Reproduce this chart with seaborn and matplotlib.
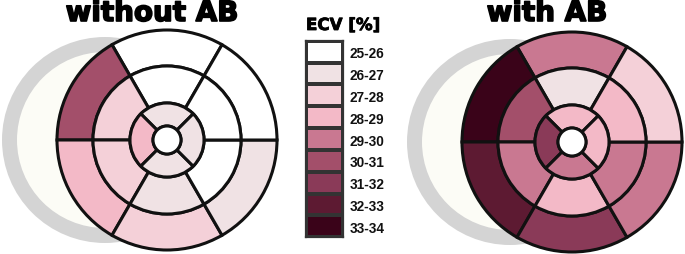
import numpy as np
import seaborn as sns
import matplotlib.pyplot as plt
import matplotlib.patheffects as pe
from matplotlib.colors import ListedColormap, Normalize
from matplotlib.patches import Wedge, Circle

# ECV bins and legend colours
ecv_labels = ['25-26', '26-27', '27-28', '28-29', '29-30', '30-31', '31-32', '32-33', '33-34']
ecv_mid = [25.5, 26.5, 27.5, 28.5, 29.5, 30.5, 31.5, 32.5, 33.5]
ecv_colors = ['#ffffff', '#f0e2e4', '#f4d0d8', '#f3b9c7', '#c97891',
              '#a34f6a', '#8a3a58', '#5d1a32', '#3a0319']

# AHA segments 1-16 (basal 1-6, mid 7-12, apical 13-16), ECV in %
ecv_without_ab = [25.5, 30.5, 28.5, 27.5, 26.5, 25.5,
                  25.5, 27.5, 27.5, 26.5, 25.5, 25.5,
                  26.5, 28.5, 26.5, 26.5]
ecv_with_ab = [29.5, 33.5, 32.5, 31.5, 29.5, 27.5,
               26.5, 30.5, 29.5, 28.5, 29.5, 28.5,
               28.5, 31.5, 29.5, 28.5]

cmap = ListedColormap(ecv_colors)
norm = Normalize(vmin=25, vmax=34)

sns.set_theme(style='white')
plt.rcParams['font.family'] = ['DejaVu Sans']

W, H = 685, 255
fig = plt.figure(figsize=(W / 100, H / 100), dpi=100)
ax = fig.add_axes([0, 0, 1, 1])
ax.set_xlim(0, W)
ax.set_ylim(0, H)
ax.axis('off')

R_OUT, R_MID, R_API, R_HOLE = 110, 74, 37, 14


def bullseye(ax, cx, cy, values):
    # grey right ventricle ring behind the bullseye
    ax.add_patch(Circle((cx - 62, cy), 103, facecolor='#d4d4d4', edgecolor='none', zorder=1))
    ax.add_patch(Circle((cx - 62, cy), 88, facecolor='#fcfcf6', edgecolor='none', zorder=1))
    kw = dict(edgecolor='#111111', linewidth=2.2, zorder=2)
    for i in range(6):
        t1 = 60 + 60 * i
        ax.add_patch(Wedge((cx, cy), R_OUT, t1, t1 + 60, width=R_OUT - R_MID,
                           facecolor=cmap(norm(values[i])), **kw))
        ax.add_patch(Wedge((cx, cy), R_MID, t1, t1 + 60, width=R_MID - R_API,
                           facecolor=cmap(norm(values[6 + i])), **kw))
    for i in range(4):
        t1 = 45 + 90 * i
        ax.add_patch(Wedge((cx, cy), R_API, t1, t1 + 90, width=R_API - R_HOLE,
                           facecolor=cmap(norm(values[12 + i])), **kw))
    ax.add_patch(Circle((cx, cy), R_HOLE, facecolor='white', **kw))


bullseye(ax, 167, H - 141, ecv_without_ab)
bullseye(ax, 572, H - 143, ecv_with_ab)

heavy = [pe.withStroke(linewidth=1.2, foreground='black')]
ax.text(152, H - 22, 'without AB', ha='center', va='baseline',
        fontsize=20, fontweight='bold', color='black', path_effects=heavy)
ax.text(547, H - 22, 'with AB', ha='center', va='baseline',
        fontsize=20, fontweight='bold', color='black', path_effects=heavy)

# legend drawn as a one-column heatmap
lx, ly, lw, lh = 306, 41.7, 37, 196.6
cax = fig.add_axes([lx / W, 1 - (ly + lh) / H, lw / W, lh / H])
sns.heatmap(np.array(ecv_mid).reshape(-1, 1), ax=cax, cmap=cmap, vmin=25, vmax=34,
            cbar=False, linewidths=1.6, linecolor='#333333',
            xticklabels=False, yticklabels=ecv_labels)
for s in cax.spines.values():
    s.set_visible(True)
    s.set_color('#333333')
    s.set_linewidth(1.6)
cax.yaxis.tick_right()
cax.tick_params(axis='y', length=0, pad=5, rotation=0)
for t in cax.get_yticklabels():
    t.set_family('Liberation Sans')
    t.set_fontweight('bold')
    t.set_fontsize(9.8)
    t.set_color('#111111')

fig.text(343 / W, 1 - 26 / H, 'ECV [%]', ha='center', va='center',
         fontsize=12, fontweight='bold', color='black',
         path_effects=[pe.withStroke(linewidth=0.6, foreground='black')])

fig.savefig('out.png', dpi=100)
